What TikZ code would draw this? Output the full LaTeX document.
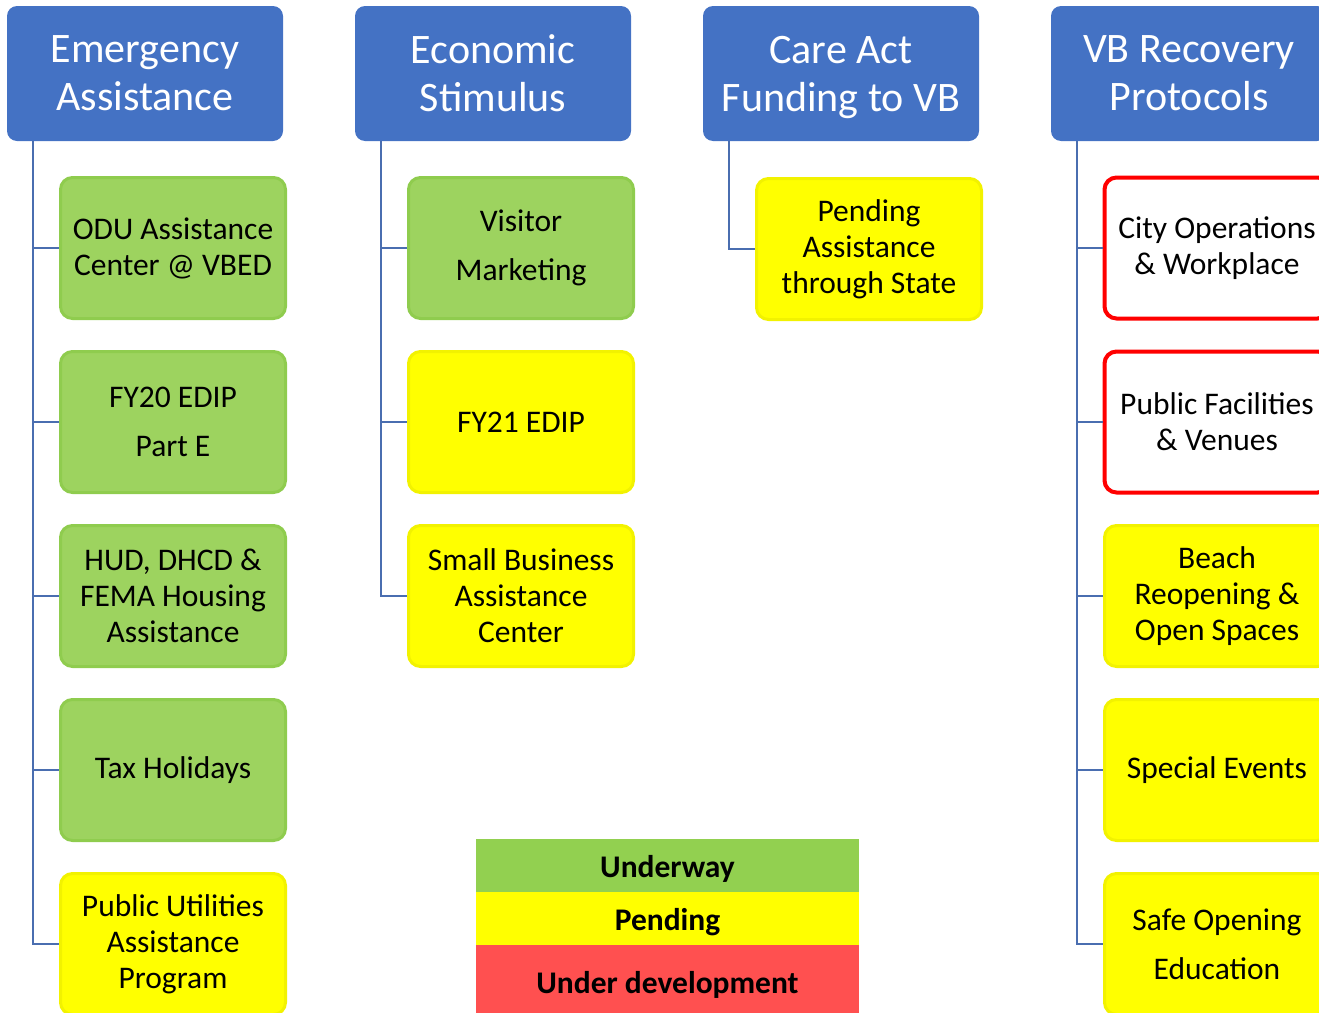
\documentclass[tikz,border=0pt]{standalone}
\usepackage{fontspec}
\setmainfont{Carlito}
\usepackage{xcolor}
\usepackage{tikz}
\usetikzlibrary{calc}
\definecolor{headblue}{HTML}{4472C4}
\definecolor{linkblue}{HTML}{4A6EB0}
\definecolor{okgreen}{HTML}{9DD35F}
\definecolor{okgreenline}{HTML}{8FCC4E}
\definecolor{pendyellow}{HTML}{FFFF00}
\definecolor{pendyellowline}{HTML}{F2F200}
\definecolor{devred}{HTML}{FF0000}
\definecolor{leggreen}{HTML}{92D050}
\definecolor{legred}{HTML}{FF5050}
\newcommand\headfont{\fontsize{42}{48}\selectfont}
\newcommand\boxfont{\fontsize{31.5}{36}\selectfont}
\tikzstyle{head}=[rounded corners=10pt,fill=headblue,text=white,font=\headfont,align=center,minimum width=276pt,minimum height=135pt,inner sep=0pt]
\tikzstyle{item}=[rounded corners=12pt,font=\boxfont,align=center,minimum width=225pt,minimum height=141pt,inner sep=0pt]
\tikzstyle{underway}=[item,fill=okgreen,draw=okgreenline,line width=3pt]
\tikzstyle{pending}=[item,fill=pendyellow,draw=pendyellowline,line width=3pt]
\tikzstyle{develop}=[item,fill=white,draw=devred,line width=4pt]
\tikzstyle{link}=[draw=linkblue,line width=2.2pt]
\tikzstyle{legend}=[font=\boxfont\bfseries,minimum width=383pt,inner sep=0pt,text height=24pt,text depth=0pt]

\begin{document}
\begin{tikzpicture}[x=1pt,y=-1pt]
	\useasboundingbox (0,0) rectangle (1319,1012);
	\clip (0,0) rectangle (1319,1012);
	% headers
	\node[head] (H1) at (145,73.5)  {Emergency\\Assistance};
	\node[head] (H2) at (493,73.5)  {Economic\\Stimulus};
	\node[head] (H3) at (841,73.5)  {Care Act\\\smash{Funding to VB}};
	\node[head] (H4) at (1189,73.5) {VB Recovery\\Protocols};
	% emergency assistance
	\node[underway] (A1) at (173,248) {ODU Assistance\\Center @ VBED};
	\node[underway] (A2) at (173,422) {FY20 EDIP\\[13pt]Part E};
	\node[underway] (A3) at (173,596) {HUD, DHCD \&\\FEMA Housing\\Assistance};
	\node[underway] (A4) at (173,770) {Tax Holidays};
	\node[pending]  (A5) at (173,944) {Public Utilities\\Assistance\\Program};
	% economic stimulus
	\node[underway] (B1) at (521,248) {Visitor\\[13pt]Marketing};
	\node[pending]  (B2) at (521,422) {FY21 EDIP};
	\node[pending]  (B3) at (521,596) {Small Business\\Assistance\\Center};
	% care act
	\node[pending]  (C1) at (869,249) {Pending\\Assistance\\through State};
	% recovery protocols
	\node[develop]  (D1) at (1217,248) {City Operations\\\& Workplace};
	\node[develop]  (D2) at (1217,422) {Public Facilities\\\& Venues};
	\node[pending]  (D3) at (1217,596) {Beach\\Reopening \&\\Open Spaces};
	\node[pending]  (D4) at (1217,770) {Special Events};
	\node[pending]  (D5) at (1217,944) {Safe Opening\\[13pt]Education};
	% trunks
	\coordinate (T1) at ($(H1.south west)+(26,0)$);
	\coordinate (T2) at ($(H2.south west)+(26,0)$);
	\coordinate (T3) at ($(H3.south west)+(26,0)$);
	\coordinate (T4) at ($(H4.south west)+(26,0)$);
	\foreach \n in {A1,A2,A3,A4,A5} \draw[link] (T1) |- (\n.west);
	\foreach \n in {B1,B2,B3} \draw[link] (T2) |- (\n.west);
	\draw[link] (T3) |- (C1.west);
	\foreach \n in {D1,D2,D3,D4,D5} \draw[link] (T4) |- (\n.west);
	% legend
	\node[legend,fill=leggreen,minimum height=53pt]   (L1) at (667.5,865.5) {Underway};
	\node[legend,fill=pendyellow,minimum height=53pt] (L2) at (667.5,918.5) {Pending};
	\node[legend,fill=legred,minimum height=72pt]     (L3) at (667.5,981)   {Under development};
\end{tikzpicture}
\end{document}
